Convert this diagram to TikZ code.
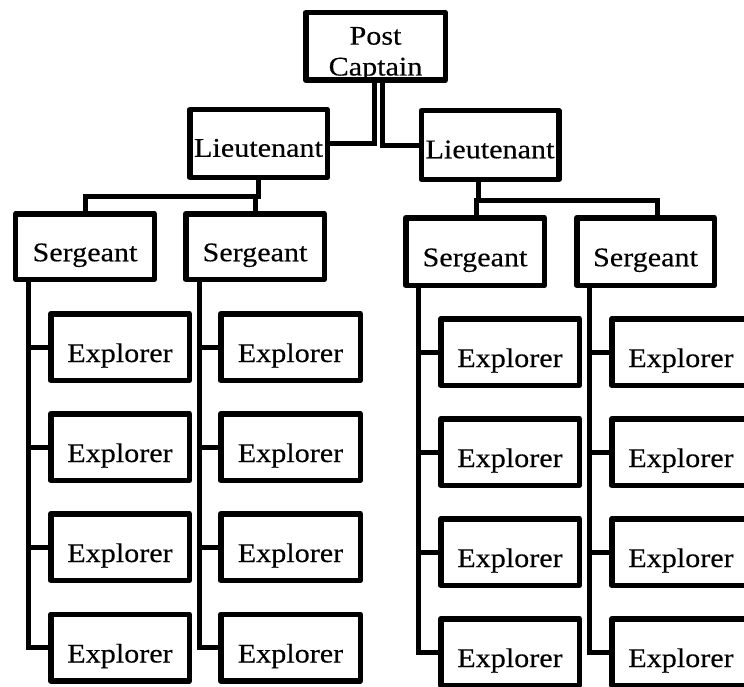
\documentclass[tikz,border=0pt]{standalone}
\usepackage{fontspec}
\setmainfont{Liberation Serif}[FakeStretch=1.12, FakeBold=0.3]
\usetikzlibrary{calc}
\tikzset{
  boxst/.style={draw, line width=5.5bp, line join=round, inner xsep=0pt, inner ysep=0pt,
    minimum width=138.5bp, minimum height=66.5bp,
    font=\fontsize{27}{31}\selectfont, text depth=0pt, text height=30bp},
  ltbox/.style={boxst, minimum width=137.5bp, minimum height=67.5bp, text height=26.5bp},
  sgbox/.style={boxst, minimum height=65.5bp, text height=29.5bp},
  exbox/.style={boxst, minimum height=66.5bp, text height=30bp},
  conn/.style={line width=5bp, line join=miter},
}
\begin{document}
\begin{tikzpicture}[x=1bp,y=-1bp]
\useasboundingbox (0,0) rectangle (744,687);
\clip (0,0) rectangle (744,687);
% top
\node[boxst, minimum width=139.5bp, minimum height=67.5bp, text height=58bp] (pc) at (375.5,46.5)
  {\begin{tabular}[b]{@{}c@{}}Post\\Captain\end{tabular}};
\node[ltbox] (ltl) at (258.5,143.5) {Lieutenant};
\node[ltbox, minimum height=68.5bp] (ltr) at (490,145) {Lieutenant};
% sergeants
\node[sgbox] (sgt1) at (85,246.5) {Sergeant};
\node[sgbox] (sgt2) at (255,246.5) {Sergeant};
\node[sgbox, minimum height=67.5bp] (sgt3) at (475,251.5) {Sergeant};
\node[sgbox, minimum height=67.5bp, minimum width=137.5bp] (sgt4) at (645.5,251.5) {Sergeant};
% explorers
\foreach \r/\yl/\yr in {1/347/352, 2/447/452, 3/547/552, 4/647.5/652} {
  \node[exbox] (e1\r) at (120,\yl) {Explorer};
  \node[exbox, minimum width=139.5bp] (e2\r) at (290.5,\yl) {Explorer};
  \node[exbox] (e3\r) at (510,\yr) {Explorer};
  \node[exbox] (e4\r) at (681,\yr) {Explorer};
}
% connectors from Post Captain
\coordinate (pcl) at ($(pc.south)+(-1.5,0)$);
\coordinate (pcr) at ($(pc.south)+(6.5,0)$);
\draw[conn] (pcl) |- (ltl.east);
\draw[conn] (pcr) |- (ltr.west);
% left lieutenant bus
\coordinate (ltlb) at ($(ltl.south)+(0,16.7)$);
\draw[conn] (ltl.south) -- (ltlb) -| (sgt1.north);
\draw[conn] (ltlb) -| (sgt2.north);
% right lieutenant bus
\coordinate (ltrt) at ($(ltr.south)+(-11.3,0)$);
\coordinate (ltrb) at ($(ltr.south)+(-11.3,18)$);
\coordinate (s3t) at ($(sgt3.north)+(1.5,0)$);
\coordinate (s4t) at ($(sgt4.north)+(11.5,0)$);
\draw[conn] (ltrt) -- (ltrb) -| (s3t);
\draw[conn] (ltrb) -| (s4t);
% sergeant spines
\coordinate (s1) at ($(sgt1.south west)+(15.5,0)$);
\coordinate (s2) at ($(sgt2.south west)+(16.5,0)$);
\coordinate (s3) at ($(sgt3.south west)+(15.3,0)$);
\coordinate (s4) at ($(sgt4.south west)+(15,0)$);
\foreach \c in {1,2,3,4} {
  \foreach \r in {1,2,3,4} {
    \draw[conn] (s\c) |- (e\c\r.west);
  }
}
\end{tikzpicture}
\end{document}
